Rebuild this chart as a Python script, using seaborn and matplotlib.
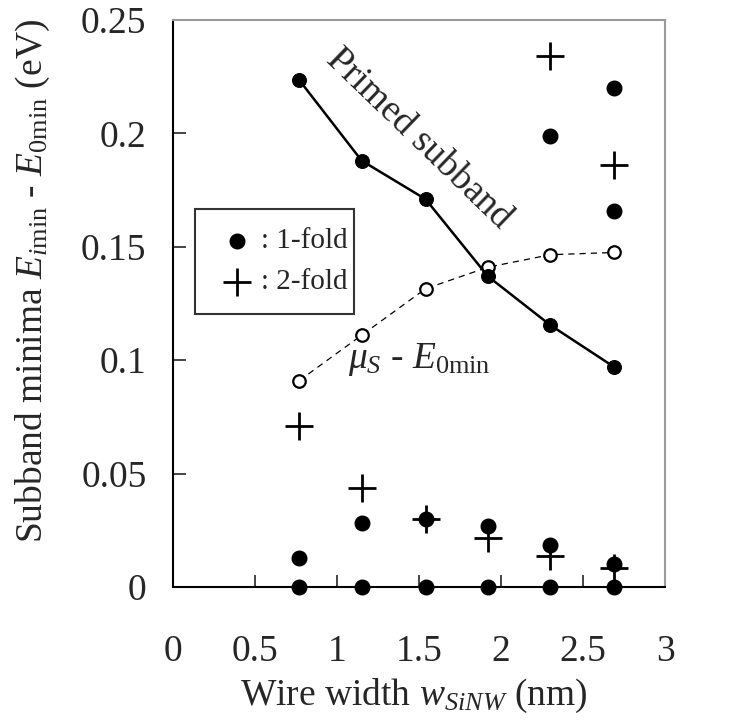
import numpy as np
import pandas as pd
import matplotlib
matplotlib.use("Agg")
import matplotlib.pyplot as plt
import seaborn as sns

sns.set_style("ticks")
plt.rcParams["font.family"] = ["Liberation Serif", "DejaVu Serif"]
plt.rcParams["mathtext.fontset"] = "custom"
plt.rcParams["mathtext.rm"] = "Liberation Serif"
plt.rcParams["mathtext.it"] = "Liberation Serif:italic"

# ---- data ----
width_nm = [0.77, 1.15, 1.54, 1.92, 2.30, 2.69]
primed = [0.2235, 0.188, 0.171, 0.137, 0.1155, 0.097]
mu_s = [0.091, 0.111, 0.1315, 0.141, 0.1465, 0.1475]

# 1-fold subbands (excluding primed)
one_x = [0.77, 1.15, 1.54, 1.92, 2.30, 2.69,
         0.77, 1.15, 1.54, 1.92, 2.30, 2.69,
         2.30, 2.69, 2.69]
one_y = [0.0, 0.0, 0.0, 0.0, 0.0, 0.0,
         0.013, 0.028, 0.030, 0.027, 0.0185, 0.010,
         0.199, 0.220, 0.166]

# 2-fold subbands
two_x = [0.77, 1.15, 1.54, 1.92, 2.30, 2.69, 2.30, 2.69]
two_y = [0.071, 0.0435, 0.030, 0.0215, 0.0135, 0.0085, 0.234, 0.186]

df_lines = pd.DataFrame({"w": width_nm, "primed": primed, "mu": mu_s})

fig = plt.figure(figsize=(7.32, 7.24), dpi=100)
ax = fig.add_axes([173 / 732, 137 / 724, 492 / 732, 567 / 724])

sns.lineplot(data=df_lines, x="w", y="mu", ax=ax, color="black", lw=0.9,
             linestyle=(0, (5, 4)), marker="o", markersize=9,
             markerfacecolor="white", markeredgecolor="black",
             markeredgewidth=1.6, zorder=3)
sns.lineplot(data=df_lines, x="w", y="primed", ax=ax, color="black", lw=1.8,
             marker="o", markersize=10, markerfacecolor="black",
             markeredgecolor="black", zorder=4)

h1 = ax.scatter(one_x, one_y, s=110, color="black", marker="o", zorder=5,
                label=": 1-fold", clip_on=False)
h2 = ax.scatter(two_x, two_y, s=420, color="black", marker="+", linewidths=2,
                zorder=5, label=": 2-fold", clip_on=False)

ax.set_xlim(0, 3)
ax.set_ylim(0, 0.25)
ax.set_xticks([0, 0.5, 1, 1.5, 2, 2.5, 3])
ax.set_xticklabels(["0", "0.5", "1", "1.5", "2", "2.5", "3"])
ax.set_yticks([0, 0.05, 0.1, 0.15, 0.2, 0.25])
ax.set_yticklabels(["0", "0.05", "0.1", "0.15", "0.2", "0.25"])
ax.tick_params(axis="x", direction="in", length=9, width=1.2, pad=34,
               labelsize=27, top=False)
ax.tick_params(axis="y", direction="in", length=9, width=1.2, pad=19,
               labelsize=27, right=False)
ax.xaxis.get_major_ticks()[0].tick1line.set_visible(False)
ax.xaxis.get_major_ticks()[-1].tick1line.set_visible(False)

for side in ["left", "bottom"]:
    ax.spines[side].set_color("black")
    ax.spines[side].set_linewidth(1.5)
for side in ["top", "right"]:
    ax.spines[side].set_color("#9a9a9a")
    ax.spines[side].set_linewidth(1.5)

ax.set_xlabel(r"Wire width $w_{SiNW}$ (nm)", fontsize=27)
ax.xaxis.set_label_coords(0.49, -0.158)
ax.set_ylabel(r"Subband minima $E_{i\mathrm{min}}$ - $E_{\mathit{0}\mathrm{min}}$ (eV)",
              fontsize=27)
ax.yaxis.set_label_coords(-0.245, 0.54)

ax.text(1.50, 0.1975, "Primed subband", rotation=-44, fontsize=27,
        ha="center", va="center", rotation_mode="anchor")
ax.text(1.50, 0.1005, r"$\mu_S$ - $E_{\mathit{0}\mathrm{min}}$", fontsize=27,
        ha="center", va="center")

leg = ax.legend(handles=[h1, h2], loc="upper left",
                bbox_to_anchor=(0.045, 0.667, 0.323, 0.0), mode="expand",
                frameon=True, fancybox=False, edgecolor="black",
                fontsize=21, handletextpad=0.0, handlelength=1.6,
                borderpad=0.65, labelspacing=0.5, borderaxespad=0)
leg.get_frame().set_linewidth(1.5)

fig.savefig("out.png", dpi=100)
